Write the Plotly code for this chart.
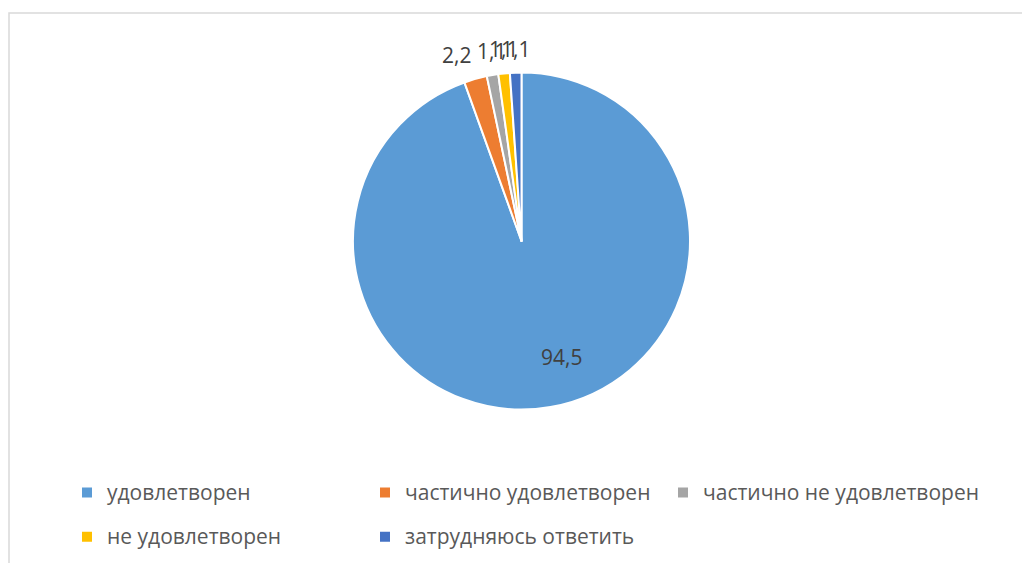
import math
import plotly.graph_objects as go

categories = ["удовлетворен", "частично удовлетворен", "частично не удовлетворен",
              "не удовлетворен", "затрудняюсь ответить"]
values = [94.5, 2.2, 1.1, 1.1, 1.1]
colors = ["#5B9BD5", "#ED7D31", "#A5A5A5", "#FFC000", "#4472C4"]

W, H = 1022, 563
FONT = "Open Sans"

# pie domain (paper fractions)
dom_x = [353 / W, 690 / W]
dom_y = [1 - 409.5 / H, 1 - 72.5 / H]

legend_names = [
    f"<span style='font-size:21px;baseline-shift:5px'>{c}</span>" for c in categories
]

fig = go.Figure(
    go.Pie(
        labels=legend_names,
        values=values,
        sort=False,
        direction="clockwise",
        rotation=0,
        marker=dict(colors=colors, line=dict(color="white", width=2)),
        textinfo="none",
        automargin=False,
        domain=dict(x=dom_x, y=dom_y),
        hoverinfo="label+value",
    )
)

# data labels placed from the slice angles
cx = (dom_x[0] + dom_x[1]) / 2
cy = (dom_y[0] + dom_y[1]) / 2
r_px = min((dom_x[1] - dom_x[0]) * W, (dom_y[1] - dom_y[0]) * H) / 2
total = sum(values)
annotations = []
cum = 0.0
for i, v in enumerate(values):
    mid = (cum + v / 2) / total * 2 * math.pi
    cum += v
    s, c = math.sin(mid), math.cos(mid)
    txt = f"{v:.1f}".replace(".", ",")
    if v / total > 0.5:
        R = 0.6 * r_px
        xa = "left" if s >= 0 else "right"
        ya = "top" if c < 0 else "bottom"
    else:
        R = r_px + 8
        xa = "center" if abs(s) < 0.2 else ("right" if s < 0 else "left")
        ya = "bottom" if c > 0 else "top"
    annotations.append(
        dict(
            x=cx + R * s / W,
            y=cy + R * c / H,
            xref="paper",
            yref="paper",
            text=txt,
            showarrow=False,
            xanchor=xa,
            yanchor=ya,
            font=dict(family=FONT, size=21, color="#404040"),
        )
    )

fig.update_layout(
    width=W,
    height=H,
    margin=dict(l=0, r=0, t=0, b=0, autoexpand=False),
    paper_bgcolor="white",
    plot_bgcolor="white",
    font=dict(family=FONT, color="#595959"),
    showlegend=True,
    annotations=annotations,
    legend=dict(
        orientation="h",
        x=67 / W,
        xanchor="left",
        y=1 - 464 / H,
        yanchor="top",
        entrywidth=253,
        font=dict(family=FONT, size=31.8, color="#595959"),
        bgcolor="rgba(0,0,0,0)",
        title=dict(
            text="<span style='font-size:21px'>" + "\u00a0" * 170 + "</span>",
            font=dict(size=1),
            side="top",
        ),
    ),
    shapes=[
        dict(
            type="rect",
            xref="paper",
            yref="paper",
            x0=9 / W,
            x1=1.05,
            y0=-0.05,
            y1=1 - 13 / H,
            line=dict(color="#D9D9D9", width=1.5),
            fillcolor="rgba(0,0,0,0)",
            layer="below",
        )
    ],
)

fig.write_html(
    "out.html",
    config={"displayModeBar": False},
    post_script="document.body.style.margin='0';",
)
